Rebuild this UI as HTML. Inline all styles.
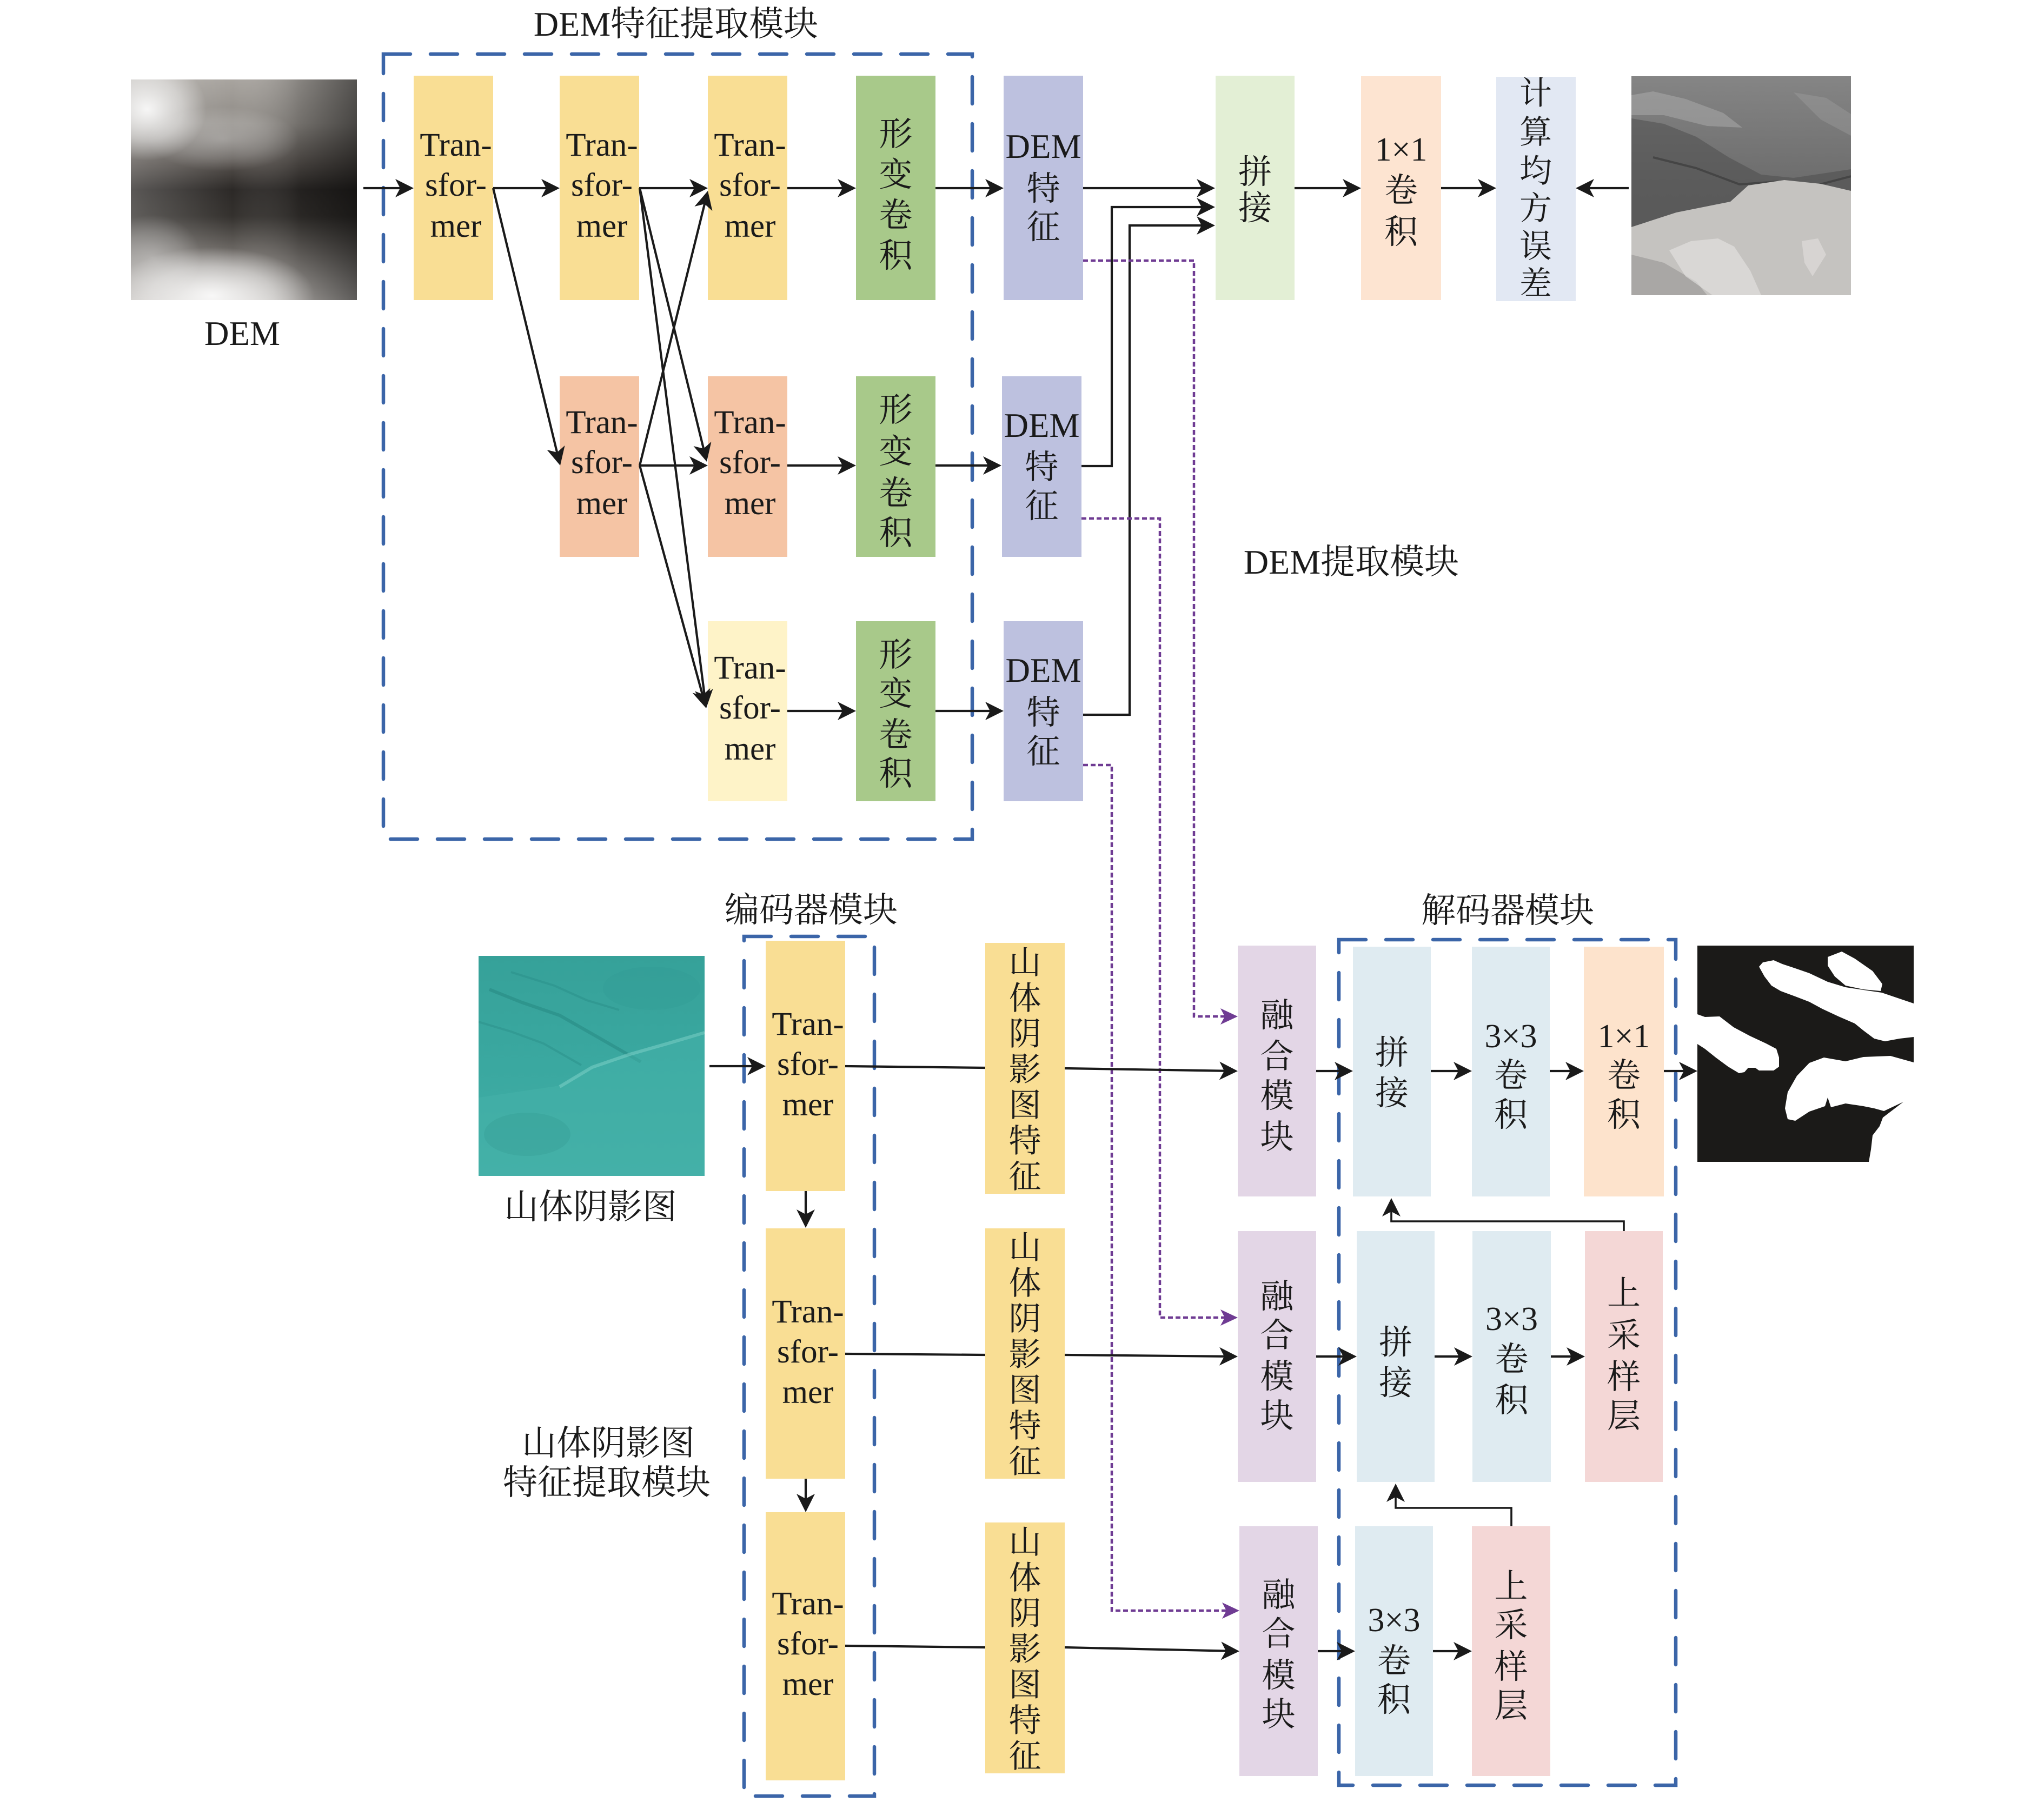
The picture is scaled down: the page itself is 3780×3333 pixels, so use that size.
<!DOCTYPE html>
<html>
<head>
<meta charset="utf-8">
<style>
html,body{margin:0;padding:0;background:#ffffff;}
svg{display:block;}
</style>
</head>
<body>
<svg xmlns="http://www.w3.org/2000/svg" width="3780" height="3333" viewBox="0 0 3780 3333">
<style>
text{font-family:"Liberation Serif","Noto Serif CJK SC","Noto Sans CJK SC",serif;fill:#1a1a1a;text-anchor:middle;}
.t{font-size:61px;}
.c{font-size:62px;}
.s{font-size:60px;}
.h{font-size:64px;}
.ln{stroke:#1a1a1a;stroke-width:4.2;fill:none;}
.ln3{stroke:#1a1a1a;stroke-width:3.6;fill:none;}
.pd{stroke:#6f3b93;stroke-width:4.5;fill:none;stroke-dasharray:9 5;}
.bd{stroke:#3b65a8;stroke-width:6.5;fill:none;stroke-dasharray:50 37;stroke-linecap:round;}
</style>
<defs>
<marker id="ah" viewBox="0 0 34 34" refX="28" refY="17" markerWidth="34" markerHeight="34" markerUnits="userSpaceOnUse" orient="auto">
<path d="M0,0 L34,17 L0,34 L9,17 Z" fill="#1a1a1a"/>
</marker>
<marker id="ap" viewBox="0 0 32 30" refX="26" refY="15" markerWidth="32" markerHeight="30" markerUnits="userSpaceOnUse" orient="auto">
<path d="M0,0 L32,15 L0,30 L8,15 Z" fill="#6f3b93"/>
</marker>
<linearGradient id="demV" x1="0" y1="0" x2="0" y2="1">
<stop offset="0" stop-color="#a8a49f"/>
<stop offset="0.2" stop-color="#8e8a85"/>
<stop offset="0.38" stop-color="#55504c"/>
<stop offset="0.5" stop-color="#2c2927"/>
<stop offset="0.62" stop-color="#34312e"/>
<stop offset="0.78" stop-color="#6e6a66"/>
<stop offset="0.92" stop-color="#a29e9a"/>
<stop offset="1" stop-color="#bcb8b4"/>
</linearGradient>
<linearGradient id="demH" x1="0" y1="0" x2="1" y2="0">
<stop offset="0" stop-color="#ffffff" stop-opacity="0.22"/>
<stop offset="0.45" stop-color="#ffffff" stop-opacity="0"/>
<stop offset="0.75" stop-color="#000000" stop-opacity="0.2"/>
<stop offset="1" stop-color="#000000" stop-opacity="0.5"/>
</linearGradient>
<radialGradient id="wglow" cx="0.5" cy="0.5" r="0.5">
<stop offset="0" stop-color="#ffffff" stop-opacity="0.9"/>
<stop offset="0.6" stop-color="#ffffff" stop-opacity="0.45"/>
<stop offset="1" stop-color="#ffffff" stop-opacity="0"/>
</radialGradient>
<linearGradient id="hsTop" x1="0" y1="0" x2="0" y2="1">
<stop offset="0" stop-color="#858585"/>
<stop offset="0.5" stop-color="#6c6c6c"/>
<stop offset="1" stop-color="#686868"/>
</linearGradient>
<linearGradient id="tealG" x1="0" y1="0" x2="0" y2="1">
<stop offset="0" stop-color="#36a199"/>
<stop offset="0.5" stop-color="#3aa8a0"/>
<stop offset="1" stop-color="#42aea6"/>
</linearGradient>
</defs>

<!-- ============ DASHED MODULE BOXES ============ -->
<rect class="bd" x="709" y="100" width="1089" height="1452"/>
<rect class="bd" x="1376" y="1732" width="241" height="1590"/>
<rect class="bd" x="2476" y="1738" width="623" height="1564"/>

<!-- ============ TITLES ============ -->
<text class="h" x="1250" y="66">DEM特征提取模块</text>
<text class="h" x="2499" y="1061">DEM提取模块</text>
<text class="h" x="1500" y="1705">编码器模块</text>
<text class="h" x="2788" y="1706">解码器模块</text>
<text class="h" x="1092" y="2254">山体阴影图</text>
<text class="h" x="1125" y="2691">山体阴影图</text>
<text class="h" x="1122" y="2764">特征提取模块</text>
<text style="font-size:63px" x="448" y="638">DEM</text>

<!-- ============ DEM IMAGE ============ -->
<svg x="242" y="147" width="418" height="408" viewBox="0 0 418 408" overflow="hidden">
<rect width="418" height="408" fill="url(#demV)"/>
<rect width="418" height="408" fill="url(#demH)"/>
<ellipse cx="30" cy="55" rx="110" ry="95" fill="url(#wglow)"/>
<ellipse cx="170" cy="110" rx="140" ry="60" fill="url(#wglow)" opacity="0.35"/>
<ellipse cx="150" cy="400" rx="190" ry="90" fill="url(#wglow)"/>
<ellipse cx="40" cy="330" rx="90" ry="80" fill="url(#wglow)" opacity="0.35"/>
</svg>

<!-- ============ GRAY HILLSHADE IMAGE ============ -->
<svg x="3017" y="141" width="406" height="405" viewBox="0 0 406 405" overflow="hidden">
<rect width="406" height="405" fill="url(#hsTop)"/>
<polygon points="0,35 40,28 100,42 170,68 205,95 140,92 60,72 0,72" fill="#b4b4b4" opacity="0.45"/>
<polygon points="300,30 360,40 406,70 406,110 350,80" fill="#a0a0a0" opacity="0.4"/>
<polygon points="0,78 60,88 120,112 180,150 240,182 300,188 406,172 406,215 350,200 283,192 216,202 183,232 83,252 0,279" fill="#4a4a4a" opacity="0.5"/>
<polyline points="40,150 120,170 200,200 270,195 330,205 406,185" stroke="#2e2e2e" stroke-width="4" fill="none" opacity="0.5"/>
<polygon points="0,279 83,252 183,232 216,202 283,192 350,199 406,212 406,405 0,405" fill="#c5c3c0"/>
<polygon points="0,330 60,345 120,380 140,405 0,405" fill="#8e8c8a" opacity="0.5"/>
<polygon points="70,322 110,305 160,300 190,315 220,360 240,405 150,405 100,370" fill="#e6e4e2" opacity="0.6"/>
<polygon points="315,305 345,300 360,330 335,370 320,345" fill="#e2e0de" opacity="0.6"/>
</svg>

<!-- ============ TEAL HILLSHADE IMAGE ============ -->
<svg x="885" y="1768" width="418" height="407" viewBox="0 0 418 407" overflow="hidden">
<rect width="418" height="407" fill="url(#tealG)"/>
<polyline points="20,62 80,86 150,110 220,150 300,196" stroke="#24837d" stroke-width="6" fill="none" opacity="0.45"/>
<polyline points="60,30 140,55 200,82 260,100" stroke="#268680" stroke-width="4" fill="none" opacity="0.35"/>
<polyline points="0,122 60,140 120,162 190,202" stroke="#268680" stroke-width="4" fill="none" opacity="0.35"/>
<polygon points="0,262 150,240 210,206 300,176 418,146 418,407 0,407" fill="#48b3ab" opacity="0.45"/>
<polyline points="150,242 210,206 280,182 350,162 418,142" stroke="#7ccfc7" stroke-width="6" fill="none" opacity="0.55"/>
<ellipse cx="90" cy="330" rx="80" ry="40" fill="#2e928b" opacity="0.25"/>
<ellipse cx="320" cy="60" rx="90" ry="40" fill="#2f968f" opacity="0.2"/>
</svg>

<!-- ============ MASK IMAGE ============ -->
<g transform="translate(3139,1749)">
<rect width="400" height="400" fill="#1b1a18"/>
<path fill="#ffffff" d="M114,39 L121,31 L141,27 L157,34 L181,42 L207,51 L241,67 L274,77 L307,82 L341,87 L400,107 L400,169 L374,172 L347,177 L327,172 L307,157 L291,144 L261,131 L231,117 L207,104 L181,94 L154,84 L137,74 L124,57 Z"/>
<path fill="#ffffff" d="M241,21 L267,11 L291,24 L324,47 L342,71 L339,84 L307,81 L274,74 L254,57 L241,37 Z"/>
<path fill="#ffffff" d="M0,127 L14,132 L41,131 L67,151 L97,167 L127,181 L146,191 L151,207 L151,224 L141,231 L114,231 L107,226 L94,226 L87,234 L77,236 L57,224 L34,207 L14,191 L0,182 Z"/>
<path fill="#ffffff" d="M167,321 L162,301 L167,271 L184,241 L207,217 L234,207 L274,214 L307,206 L357,204 L400,216 L400,400 L317,400 L321,377 L324,351 L337,334 L343,318 L381,289 L345,306 L327,301 L307,297 L274,292 L247,299 L241,281 L236,297 L207,307 L181,324 Z"/>
</g>

<!-- ============ TOP SECTION BOXES ============ -->
<rect x="765" y="140" width="147" height="415" fill="#f9de94"/>
<rect x="1035" y="140" width="147" height="415" fill="#f9de94"/>
<rect x="1309" y="140" width="147" height="415" fill="#f9de94"/>
<rect x="1583" y="140" width="147" height="415" fill="#a8c98a"/>
<rect x="1856" y="140" width="147" height="415" fill="#bdc1df"/>
<rect x="2248" y="140" width="146" height="415" fill="#e3efd5"/>
<rect x="2517" y="141" width="148" height="414" fill="#fde4d1"/>
<rect x="2767" y="142" width="147" height="415" fill="#e2e8f3"/>
<rect x="1035" y="696" width="147" height="334" fill="#f5c4a4"/>
<rect x="1309" y="696" width="147" height="334" fill="#f5c4a4"/>
<rect x="1583" y="696" width="147" height="334" fill="#a8c98a"/>
<rect x="1853" y="696" width="147" height="334" fill="#bdc1df"/>
<rect x="1309" y="1149" width="147" height="333" fill="#fef3c8"/>
<rect x="1583" y="1149" width="147" height="333" fill="#a8c98a"/>
<rect x="1856" y="1149" width="147" height="333" fill="#bdc1df"/>

<!-- ============ BOTTOM SECTION BOXES ============ -->
<rect x="1416" y="1740" width="147" height="463" fill="#f9de94"/>
<rect x="1416" y="2272" width="147" height="463" fill="#f9de94"/>
<rect x="1416" y="2797" width="147" height="496" fill="#f9de94"/>
<rect x="1822" y="1744" width="147" height="464" fill="#f9de94"/>
<rect x="1822" y="2272" width="147" height="463" fill="#f9de94"/>
<rect x="1822" y="2816" width="147" height="464" fill="#f9de94"/>
<rect x="2289" y="1749" width="145" height="464" fill="#e3d6e6"/>
<rect x="2289" y="2277" width="145" height="464" fill="#e3d6e6"/>
<rect x="2292" y="2823" width="145" height="462" fill="#e3d6e6"/>
<rect x="2502" y="1751" width="144" height="462" fill="#dfebf1"/>
<rect x="2722" y="1751" width="144" height="462" fill="#dfebf1"/>
<rect x="2929" y="1751" width="148" height="462" fill="#fde3cc"/>
<rect x="2509" y="2277" width="144" height="464" fill="#dfebf1"/>
<rect x="2723" y="2277" width="145" height="464" fill="#dfebf1"/>
<rect x="2931" y="2277" width="144" height="464" fill="#f4d7d6"/>
<rect x="2506" y="2823" width="144" height="462" fill="#dfebf1"/>
<rect x="2722" y="2823" width="145" height="462" fill="#f4d7d6"/>

<!-- ============ TOP TEXT ============ -->
<text class="t" x="843" y="288">Tran-</text><text class="t" x="843" y="362">sfor-</text><text class="t" x="843" y="438">mer</text>
<text class="t" x="1113" y="288">Tran-</text><text class="t" x="1113" y="362">sfor-</text><text class="t" x="1113" y="438">mer</text>
<text class="t" x="1387" y="288">Tran-</text><text class="t" x="1387" y="362">sfor-</text><text class="t" x="1387" y="438">mer</text>
<text class="t" x="1113" y="801">Tran-</text><text class="t" x="1113" y="875">sfor-</text><text class="t" x="1113" y="951">mer</text>
<text class="t" x="1387" y="801">Tran-</text><text class="t" x="1387" y="875">sfor-</text><text class="t" x="1387" y="951">mer</text>
<text class="t" x="1387" y="1255">Tran-</text><text class="t" x="1387" y="1329">sfor-</text><text class="t" x="1387" y="1405">mer</text>
<text class="c" x="1656.5" y="269">形</text><text class="c" x="1656.5" y="344">变</text><text class="c" x="1656.5" y="419">卷</text><text class="c" x="1656.5" y="494">积</text>
<text class="c" x="1656.5" y="779">形</text><text class="c" x="1656.5" y="856">变</text><text class="c" x="1656.5" y="933">卷</text><text class="c" x="1656.5" y="1007">积</text>
<text class="c" x="1656.5" y="1232">形</text><text class="c" x="1656.5" y="1304">变</text><text class="c" x="1656.5" y="1380">卷</text><text class="c" x="1656.5" y="1452">积</text>
<text style="font-size:63px" x="1929.5" y="292">DEM</text><text class="c" x="1929.5" y="370">特</text><text class="c" x="1929.5" y="441">征</text>
<text style="font-size:63px" x="1926.5" y="808">DEM</text><text class="c" x="1926.5" y="885">特</text><text class="c" x="1926.5" y="957">征</text>
<text style="font-size:63px" x="1929.5" y="1261">DEM</text><text class="c" x="1929.5" y="1339">特</text><text class="c" x="1929.5" y="1411">征</text>
<text class="c" x="2321" y="339">拼</text><text class="c" x="2321" y="406">接</text>
<text class="c" x="2591" y="297">1×1</text><text class="c" x="2591" y="373">卷</text><text class="c" x="2591" y="450">积</text>
<text class="s" x="2840" y="193">计</text><text class="s" x="2840" y="265">算</text><text class="s" x="2840" y="337">均</text><text class="s" x="2840" y="406">方</text><text class="s" x="2840" y="476">误</text><text class="s" x="2840" y="545">差</text>

<!-- ============ BOTTOM TEXT ============ -->
<text class="t" x="1494" y="1914">Tran-</text><text class="t" x="1494" y="1988">sfor-</text><text class="t" x="1494" y="2063">mer</text>
<text class="t" x="1494" y="2446">Tran-</text><text class="t" x="1494" y="2520">sfor-</text><text class="t" x="1494" y="2595">mer</text>
<text class="t" x="1494" y="2986">Tran-</text><text class="t" x="1494" y="3060">sfor-</text><text class="t" x="1494" y="3135">mer</text>
<text class="s" x="1895.5" y="1801">山</text><text class="s" x="1895.5" y="1867">体</text><text class="s" x="1895.5" y="1933">阴</text><text class="s" x="1895.5" y="1999">影</text><text class="s" x="1895.5" y="2065">图</text><text class="s" x="1895.5" y="2131">特</text><text class="s" x="1895.5" y="2197">征</text>
<text class="s" x="1895.5" y="2328">山</text><text class="s" x="1895.5" y="2394">体</text><text class="s" x="1895.5" y="2460">阴</text><text class="s" x="1895.5" y="2526">影</text><text class="s" x="1895.5" y="2592">图</text><text class="s" x="1895.5" y="2658">特</text><text class="s" x="1895.5" y="2724">征</text>
<text class="s" x="1895.5" y="2873">山</text><text class="s" x="1895.5" y="2939">体</text><text class="s" x="1895.5" y="3005">阴</text><text class="s" x="1895.5" y="3071">影</text><text class="s" x="1895.5" y="3137">图</text><text class="s" x="1895.5" y="3203">特</text><text class="s" x="1895.5" y="3269">征</text>
<text class="c" x="2361.5" y="1899">融</text><text class="c" x="2361.5" y="1975">合</text><text class="c" x="2361.5" y="2048">模</text><text class="c" x="2361.5" y="2124">块</text>
<text class="c" x="2361.5" y="2419">融</text><text class="c" x="2361.5" y="2491">合</text><text class="c" x="2361.5" y="2567">模</text><text class="c" x="2361.5" y="2640">块</text>
<text class="c" x="2364.5" y="2971">融</text><text class="c" x="2364.5" y="3043">合</text><text class="c" x="2364.5" y="3120">模</text><text class="c" x="2364.5" y="3192">块</text>
<text class="c" x="2574" y="1968">拼</text><text class="c" x="2574" y="2043">接</text>
<text class="c" x="2794" y="1937">3×3</text><text class="c" x="2794" y="2010">卷</text><text class="c" x="2794" y="2083">积</text>
<text class="c" x="3003" y="1937">1×1</text><text class="c" x="3003" y="2010">卷</text><text class="c" x="3003" y="2083">积</text>
<text class="c" x="2581" y="2504">拼</text><text class="c" x="2581" y="2579">接</text>
<text class="c" x="2795.5" y="2460">3×3</text><text class="c" x="2795.5" y="2535">卷</text><text class="c" x="2795.5" y="2611">积</text>
<text class="c" x="3003" y="2413">上</text><text class="c" x="3003" y="2491">采</text><text class="c" x="3003" y="2568">样</text><text class="c" x="3003" y="2640">层</text>
<text class="c" x="2578" y="3017">3×3</text><text class="c" x="2578" y="3093">卷</text><text class="c" x="2578" y="3165">积</text>
<text class="c" x="2794.5" y="2955">上</text><text class="c" x="2794.5" y="3027">采</text><text class="c" x="2794.5" y="3104">样</text><text class="c" x="2794.5" y="3176">层</text>

<!-- ============ TOP ARROWS ============ -->
<g class="ln">
<line x1="672" y1="348" x2="759" y2="348" marker-end="url(#ah)"/>
<line x1="912" y1="348" x2="1029" y2="348" marker-end="url(#ah)"/>
<line x1="1182" y1="348" x2="1303" y2="348" marker-end="url(#ah)"/>
<line x1="1456" y1="348" x2="1577" y2="348" marker-end="url(#ah)"/>
<line x1="1730" y1="348" x2="1850" y2="348" marker-end="url(#ah)"/>
<line x1="2003" y1="348" x2="2241" y2="348" marker-end="url(#ah)"/>
<line x1="2394" y1="348" x2="2511" y2="348" marker-end="url(#ah)"/>
<line x1="2665" y1="348" x2="2761" y2="348" marker-end="url(#ah)"/>
<line x1="3012" y1="348" x2="2920" y2="348" marker-end="url(#ah)"/>
<line x1="1182" y1="861" x2="1303" y2="861" marker-end="url(#ah)"/>
<line x1="1456" y1="861" x2="1577" y2="861" marker-end="url(#ah)"/>
<line x1="1730" y1="861" x2="1846" y2="861" marker-end="url(#ah)"/>
<line x1="1456" y1="1315" x2="1577" y2="1315" marker-end="url(#ah)"/>
<line x1="1730" y1="1315" x2="1850" y2="1315" marker-end="url(#ah)"/>
<line x1="912" y1="348" x2="1034.6" y2="855.2" marker-end="url(#ah)"/>
<line x1="1183" y1="348" x2="1305.6" y2="848.2" marker-end="url(#ah)"/>
<line x1="1183" y1="348" x2="1305.2" y2="1304" marker-end="url(#ah)"/>
<line x1="1183" y1="861" x2="1307.6" y2="358.8" marker-end="url(#ah)"/>
<line x1="1183" y1="861" x2="1304.4" y2="1304.2" marker-end="url(#ah)"/>
<polyline points="2000,862 2056,862 2056,383 2241,383" marker-end="url(#ah)"/>
<polyline points="2003,1322 2089,1322 2089,417 2241,417" marker-end="url(#ah)"/>
</g>

<!-- ============ PURPLE DOTTED ============ -->
<g class="pd">
<polyline points="2003,482 2208,482 2208,1880 2283,1880" marker-end="url(#ap)"/>
<polyline points="2000,959 2145,959 2145,2437 2283,2437" marker-end="url(#ap)"/>
<polyline points="2003,1415 2056,1415 2056,2979 2286,2979" marker-end="url(#ap)"/>
</g>

<!-- ============ BOTTOM ARROWS ============ -->
<g class="ln">
<line x1="1312" y1="1972" x2="1410" y2="1972" marker-end="url(#ah)"/>
<line x1="1563" y1="1972" x2="1822" y2="1975"/>
<line x1="1969" y1="1976" x2="2283" y2="1981" marker-end="url(#ah)"/>
<line x1="1563" y1="2504" x2="1822" y2="2506"/>
<line x1="1969" y1="2506" x2="2283" y2="2509" marker-end="url(#ah)"/>
<line x1="1563" y1="3044" x2="1822" y2="3047"/>
<line x1="1969" y1="3047" x2="2286" y2="3054" marker-end="url(#ah)"/>
<line x1="1490" y1="2203" x2="1490" y2="2265" marker-end="url(#ah)"/>
<line x1="1490" y1="2735" x2="1490" y2="2791" marker-end="url(#ah)"/>
<line x1="2434" y1="1981" x2="2496" y2="1981" marker-end="url(#ah)"/>
<line x1="2646" y1="1981" x2="2716" y2="1981" marker-end="url(#ah)"/>
<line x1="2866" y1="1981" x2="2923" y2="1981" marker-end="url(#ah)"/>
<line x1="3077" y1="1981" x2="3133" y2="1981" marker-end="url(#ah)"/>
<line x1="2434" y1="2509" x2="2503" y2="2509" marker-end="url(#ah)"/>
<line x1="2653" y1="2509" x2="2717" y2="2509" marker-end="url(#ah)"/>
<line x1="2868" y1="2509" x2="2925" y2="2509" marker-end="url(#ah)"/>
<line x1="2437" y1="3054" x2="2500" y2="3054" marker-end="url(#ah)"/>
<line x1="2650" y1="3054" x2="2716" y2="3054" marker-end="url(#ah)"/>
</g>
<g class="ln3">
<polyline points="3003,2277 3003,2259 2573,2259 2573,2222" marker-end="url(#ah)"/>
<polyline points="2795,2823 2795,2789 2581,2789 2581,2750" marker-end="url(#ah)"/>
</g>
</svg>
</body>
</html>
